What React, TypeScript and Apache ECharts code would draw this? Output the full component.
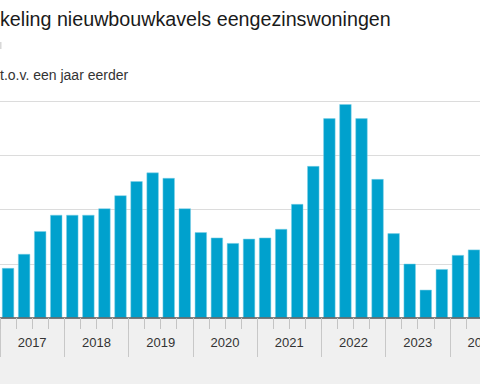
import React, { useEffect, useRef } from "react";
import * as echarts from "echarts";

const years = ["2017", "2018", "2019", "2020", "2021", "2022", "2023", "2024"];
const quarterNames = ["K1", "K2", "K3", "K4"];
const quarters: string[] = [];
years.forEach((y) => quarterNames.forEach((q) => quarters.push(y + " " + q)));
const visibleQuarters = quarters.slice(0, 30);

const values = [
  4.6, 5.9, 8.0, 9.5, 9.5, 9.5, 10.1, 11.3, 12.6, 13.4, 12.9, 10.1, 7.9, 7.4,
  6.9, 7.3, 7.4, 8.2, 10.5, 14.0, 18.4, 19.7, 18.4, 12.8, 7.8, 5.0, 2.6, 4.5,
  5.8, 6.3,
];

const yTicks = { min: 0, max: 20, interval: 5 };

const titleText = "keling nieuwbouwkavels eengezinswoningen";
const subText = "t.o.v. een jaar eerder";

// half-year points (boundaryGap false): even index = year boundary, odd = year centre
const halfYearPoints: string[] = [];
for (let i = 0; i <= 15; i++) {
  halfYearPoints.push(i % 2 === 1 ? years[(i - 1) / 2] : "");
}

export default function App() {
  const ref = useRef<HTMLDivElement>(null);
  useEffect(() => {
    if (!ref.current) return;
    const chart = echarts.init(ref.current, null, { renderer: "svg" });
    const font = "'Liberation Sans', Arial, sans-serif";
    chart.setOption({
      animation: false,
      backgroundColor: "#ffffff",
      textStyle: { fontFamily: font },
      title: [
        {
          text: titleText,
          left: 0,
          top: 9,
          padding: 0,
          textStyle: { fontSize: 19.7, fontWeight: "normal", color: "#1a1a1a", fontFamily: font },
        },
        {
          text: subText,
          left: 0,
          top: 68,
          padding: 0,
          textStyle: { fontSize: 14, fontWeight: "normal", color: "#333333", fontFamily: font },
        },
      ],
      graphic: [
        {
          type: "rect",
          z: -1,
          silent: true,
          shape: { x: 0, y: 319, width: 480, height: 65 },
          style: { fill: "#f0f0f0" },
        },
        {
          type: "rect",
          silent: true,
          shape: { x: 0, y: 42, width: 1.5, height: 7 },
          style: { fill: "#d8d8d8" },
        },
      ],
      grid: {
        left: 0,
        right: -2,
        top: 101,
        bottom: 66,
        containLabel: false,
        outerBoundsMode: "none",
      },
      xAxis: [
        {
          type: "category",
          data: visibleQuarters,
          boundaryGap: true,
          axisLine: { show: true, lineStyle: { color: "#5a5a5a", width: 1.5 } },
          axisTick: { show: true, interval: 0, length: 11, lineStyle: { color: "#c4c4c4" } },
          axisLabel: { show: false },
          splitLine: { show: false },
          z: 5,
        },
        {
          type: "category",
          data: halfYearPoints,
          boundaryGap: false,
          position: "bottom",
          axisLine: { show: false },
          axisTick: {
            show: true,
            interval: (i: number) => i % 2 === 0,
            length: 39,
            lineStyle: { color: "#c8c8c8" },
          },
          axisLabel: {
            show: true,
            interval: 0,
            margin: 18,
            fontSize: 13,
            color: "#333333",
            fontFamily: font,
            hideOverlap: false,
          },
          splitLine: { show: false },
        },
      ],
      yAxis: {
        type: "value",
        min: yTicks.min,
        max: yTicks.max,
        interval: yTicks.interval,
        axisLabel: { show: false },
        axisLine: { show: false },
        axisTick: { show: false },
        splitLine: { show: true, lineStyle: { color: "#dcdcdc", width: 1 } },
      },
      series: [
        {
          type: "bar",
          xAxisIndex: 0,
          data: values,
          barCategoryGap: "25%",
          itemStyle: { color: "#00a1cd", borderColor: "#7fd0e6", borderWidth: 0.5 },
        },
      ],
    });
    return () => chart.dispose();
  }, []);
  return (
    <div
      ref={ref}
      style={{ position: "fixed", left: 0, top: 0, width: 480, height: 384, overflow: "hidden" }}
    />
  );
}
